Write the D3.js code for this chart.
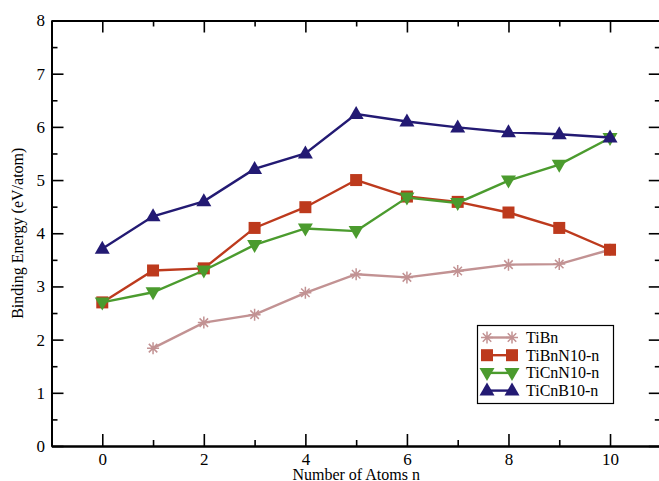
<!DOCTYPE html>
<html>
<head>
<meta charset="utf-8">
<script src="https://cdn.jsdelivr.net/npm/d3@7"></script>
<style>
  body { margin: 0; background: #fff; }
  svg, svg g, svg text { font-family: "Liberation Serif", "DejaVu Serif", serif !important; }
  svg text { fill: #000; }
</style>
</head>
<body>
<div id="chart"></div>
<script>
// data
const atoms = [0, 1, 2, 3, 4, 5, 6, 7, 8, 9, 10];
const tiBn      = [null, 1.84, 2.32, 2.47, 2.88, 3.23, 3.17, 3.29, 3.41, 3.42, 3.69];
const tiBnN10n  = [2.70, 3.30, 3.34, 4.10, 4.49, 5.00, 4.69, 4.59, 4.39, 4.10, 3.69];
const tiCnN10n  = [2.70, 2.89, 3.30, 3.78, 4.09, 4.04, 4.67, 4.57, 4.99, 5.29, 5.79];
const tiCnB10n  = [3.71, 4.32, 4.60, 5.21, 5.50, 6.24, 6.10, 5.99, 5.90, 5.86, 5.80];
const seriesNames = ['TiBn', 'TiBnN10-n', 'TiCnN10-n', 'TiCnB10-n'];
const xMajor = [0, 2, 4, 6, 8, 10];
const xMinor = [-1, 1, 3, 5, 7, 9, 11];
const yMajor = [0, 1, 2, 3, 4, 5, 6, 7, 8];
const yMinor = [0.5, 1.5, 2.5, 3.5, 4.5, 5.5, 6.5, 7.5];

const width = 659, height = 481;
const plotL = 51.5, plotR = 660.8, plotT = 20.5, plotB = 446;
const serif = '"Liberation Serif", "DejaVu Serif", serif';

const series = [
  { name: seriesNames[0], vals: tiBn,     color: '#c29293', symbol: 'star' },
  { name: seriesNames[1], vals: tiBnN10n, color: '#bd3a1d', symbol: 'square' },
  { name: seriesNames[2], vals: tiCnN10n, color: '#4b9b2e', symbol: 'down' },
  { name: seriesNames[3], vals: tiCnB10n, color: '#231a73', symbol: 'up' }
];

const svg = d3.select('#chart').append('svg')
    .attr('width', width)
    .attr('height', height);

const x = d3.scaleLinear().domain([-1, 11]).range([plotL, plotR]);
const y = d3.scaleLinear().domain([0, 8]).range([plotB, plotT]);

// axes
function styleAxis(g) {
  g.attr('font-family', serif);
  g.selectAll('.domain').attr('stroke', '#000').attr('stroke-width', 2);
  g.selectAll('.tick line').attr('stroke', '#000').attr('stroke-width', 1.6);
  g.selectAll('.tick text').style('font-size', '17px').style('font-family', serif);
}

svg.append('g')
    .attr('transform', `translate(0,${plotB})`)
    .call(d3.axisBottom(x).tickValues(xMajor).tickSize(-12).tickSizeOuter(0).tickPadding(7).tickFormat(d3.format('d')))
    .call(styleAxis);
svg.append('g')
    .attr('transform', `translate(0,${plotB})`)
    .call(d3.axisBottom(x).tickValues(xMinor).tickSize(-6).tickSizeOuter(0).tickFormat(''))
    .call(styleAxis);
svg.append('g')
    .attr('transform', `translate(0,${plotT})`)
    .call(d3.axisTop(x).tickValues(xMajor).tickSize(-12).tickSizeOuter(0).tickFormat(''))
    .call(styleAxis);
svg.append('g')
    .attr('transform', `translate(0,${plotT})`)
    .call(d3.axisTop(x).tickValues(xMinor).tickSize(-6).tickSizeOuter(0).tickFormat(''))
    .call(styleAxis);

svg.append('g')
    .attr('transform', `translate(${plotL},0)`)
    .call(d3.axisLeft(y).tickValues(yMajor).tickSize(-12).tickSizeOuter(0).tickPadding(6.5).tickFormat(d3.format('d')))
    .call(styleAxis);
svg.append('g')
    .attr('transform', `translate(${plotL},0)`)
    .call(d3.axisLeft(y).tickValues(yMinor).tickSize(-6).tickSizeOuter(0).tickFormat(''))
    .call(styleAxis);
svg.append('g')
    .attr('transform', `translate(${plotR},0)`)
    .call(d3.axisRight(y).tickValues(yMajor).tickSize(-12).tickSizeOuter(0).tickFormat(''))
    .call(styleAxis);
svg.append('g')
    .attr('transform', `translate(${plotR},0)`)
    .call(d3.axisRight(y).tickValues(yMinor).tickSize(-6).tickSizeOuter(0).tickFormat(''))
    .call(styleAxis);

// axis titles
svg.append('text')
    .attr('x', (plotL + plotR) / 2)
    .attr('y', 479.5)
    .attr('text-anchor', 'middle')
    .style('font-family', serif)
    .style('font-size', '16px')
    .text('Number of Atoms n');
svg.append('text')
    .attr('transform', `translate(23,${(plotT + plotB) / 2}) rotate(-90)`)
    .attr('text-anchor', 'middle')
    .style('font-family', serif)
    .style('font-size', '16px')
    .text('Binding Energy (eV/atom)');

// markers
function drawSymbol(g, type, color, cx, cy) {
  if (type === 'square') {
    g.append('rect')
        .attr('x', cx - 6).attr('y', cy - 6)
        .attr('width', 12).attr('height', 12)
        .attr('fill', color);
  } else if (type === 'up' || type === 'down') {
    const s = type === 'up' ? 1 : -1;
    g.append('path')
        .attr('d', `M${cx},${cy - 8 * s}L${cx + 7.5},${cy + 5 * s}L${cx - 7.5},${cy + 5 * s}Z`)
        .attr('fill', color);
  } else {
    const r = 6;
    const path = [0, 45, 90, 135].map(a => {
      const t = a * Math.PI / 180;
      return `M${cx - r * Math.cos(t)},${cy - r * Math.sin(t)}L${cx + r * Math.cos(t)},${cy + r * Math.sin(t)}`;
    }).join('');
    g.append('path').attr('d', path)
        .attr('stroke', color).attr('stroke-width', 1.5).attr('fill', 'none');
  }
}

const line = d3.line()
    .defined(d => d.v != null)
    .x(d => x(d.n))
    .y(d => y(d.v));

series.forEach(s => {
  const pts = atoms.map((n, i) => ({ n, v: s.vals[i] }));
  const g = svg.append('g');
  g.append('path')
      .datum(pts)
      .attr('d', line)
      .attr('fill', 'none')
      .attr('stroke', s.color)
      .attr('stroke-width', 2.4);
  pts.filter(d => d.v != null).forEach(d => drawSymbol(g, s.symbol, s.color, x(d.n), y(d.v)));
});

// legend
const lg = svg.append('g');
lg.append('rect')
    .attr('x', 477.5).attr('y', 325.5)
    .attr('width', 136).attr('height', 78)
    .attr('fill', '#fff')
    .attr('stroke', '#000')
    .attr('stroke-width', 1.2);
series.forEach((s, i) => {
  const cy = 337.5 + i * 17.7;
  lg.append('line')
      .attr('x1', 487).attr('x2', 512)
      .attr('y1', cy).attr('y2', cy)
      .attr('stroke', s.color).attr('stroke-width', 2.4);
  drawSymbol(lg, s.symbol, s.color, 487, cy);
  drawSymbol(lg, s.symbol, s.color, 512, cy);
  lg.append('text')
      .attr('x', 526)
      .attr('y', cy + 5.5)
      .style('font-family', serif)
      .style('font-size', '16px')
      .text(s.name);
});
</script>
</body>
</html>
